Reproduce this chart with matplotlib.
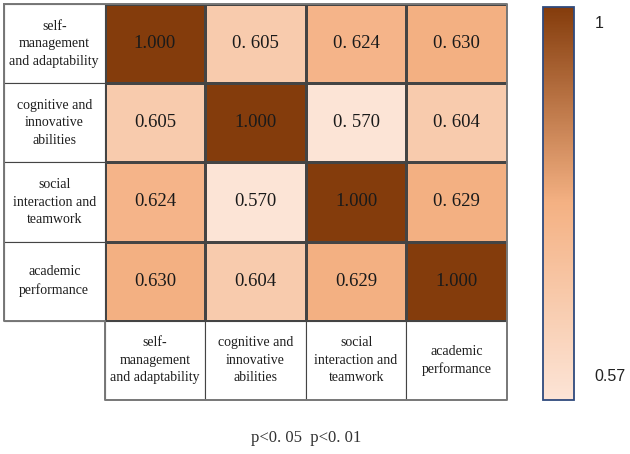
import numpy as np
import matplotlib
matplotlib.use("Agg")
import matplotlib.pyplot as plt
from matplotlib.colors import LinearSegmentedColormap, Normalize
from matplotlib.patches import Rectangle
import matplotlib.cm as cm

labels = ["self-\nmanagement\nand adaptability",
          "cognitive and\ninnovative\nabilities",
          "social\ninteraction and\nteamwork",
          "academic\nperformance"]
corr = np.array([[1.000, 0.605, 0.624, 0.630],
                 [0.605, 1.000, 0.570, 0.604],
                 [0.624, 0.570, 1.000, 0.629],
                 [0.630, 0.604, 0.629, 1.000]])
vmin, vmax = 0.57, 1.0
note = "p<0. 05  p<0. 01"

serif = ["Liberation Serif", "DejaVu Serif"]

cell_cmap = LinearSegmentedColormap.from_list(
    "cells", [(0.0, "#FCE4D6"), (0.079, "#F8CBAD"), (0.1326, "#F4B183"), (1.0, "#843C0C")])
bar_cmap = LinearSegmentedColormap.from_list(
    "bar", [(0.0, "#FCE4D6"), (0.5, "#F4B183"), (1.0, "#843C0C")])
norm = Normalize(vmin=vmin, vmax=vmax)

fig = plt.figure(figsize=(6.3, 4.54), dpi=100)
ax = fig.add_axes([4 / 630, 54 / 454, 503 / 630, 396 / 454])
n = len(labels)
ax.set_xlim(0, n + 1)
ax.set_ylim(n + 1, 0)
ax.axis("off")

edge = "#444444"
xe = np.arange(1, n + 2)
ye = np.arange(0, n + 1)
ax.pcolormesh(xe, ye, corr, cmap=cell_cmap, norm=norm,
              edgecolor=edge, linewidth=0.8)

for i, lab in enumerate(labels):
    # row label cells
    ax.add_patch(Rectangle((0, i), 1, 1, facecolor="white", edgecolor=edge, lw=0.8))
    ax.text(0.5, i + 0.5, lab, ha="center", va="center", fontsize=10,
            family=serif, color="#1e1e1e", linespacing=1.45)
    # column label cells
    ax.add_patch(Rectangle((i + 1, n), 1, 1, facecolor="white", edgecolor=edge, lw=0.8))
    ax.text(i + 1.5, n + 0.5, lab, ha="center", va="center", fontsize=10,
            family=serif, color="#1e1e1e", linespacing=1.45)

for i in range(n):
    for j in range(n):
        v = corr[i, j]
        s = f"{v:.3f}"
        if j > i:
            s = s.replace(".", ". ")
        ax.text(j + 1.5, i + 0.5, s, ha="center", va="center", fontsize=13.5,
                family=serif, color="#1a1a1a")

# outer frame
ax.plot([0, n + 1, n + 1, 1, 1, 0, 0], [0, 0, n + 1, n + 1, n, n, 0],
        color="#777777", lw=1.4, clip_on=False)

cax = fig.add_axes([543 / 630, 54 / 454, 31 / 630, 393 / 454])
sm = cm.ScalarMappable(norm=norm, cmap=bar_cmap)
cb = fig.colorbar(sm, cax=cax)
cb.set_ticks([])
cb.outline.set_edgecolor("#2F4A7D")
cb.outline.set_linewidth(1.3)
cax.text(1.68, 0.957, "1", transform=cax.transAxes, ha="left", va="center",
         fontsize=11.5, family="Liberation Sans", color="#222222")
cax.text(1.65, 0.059, "0.57", transform=cax.transAxes, ha="left", va="center",
         fontsize=11.5, family="Liberation Sans", color="#222222")

fig.text(306 / 630, 1 - 438 / 454, note, ha="center", va="center",
         fontsize=12, family=serif, color="#333333")

fig.savefig("out.png", dpi=100)
